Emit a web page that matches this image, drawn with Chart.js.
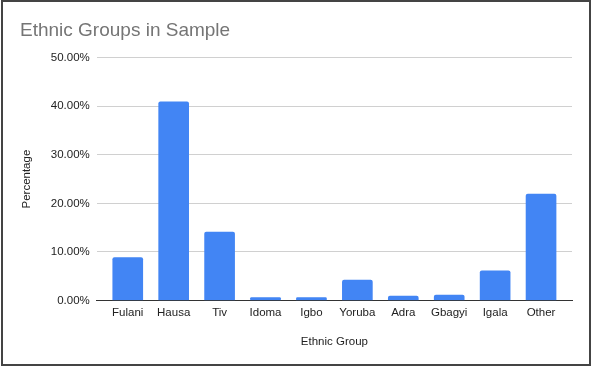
<!DOCTYPE html>
<html>
<head>
<meta charset="utf-8">
<script src="https://cdn.jsdelivr.net/npm/chart.js@4"></script>
<style>
  html, body { margin: 0; padding: 0; background: #fff; }
  #wrap { position: relative; width: 591px; height: 368px; overflow: hidden; }
  #c { position: absolute; left: 0; top: 0; }
  #frame {
    position: absolute; left: 1px; top: 0; width: 590px; height: 366px;
    box-sizing: border-box; border: 2px solid #444; pointer-events: none;
  }
</style>
</head>
<body>
<div id="wrap">
  <canvas id="c" width="591" height="368"></canvas>
  <div id="frame"></div>
</div>
<script>
// Share of each ethnic group in the sample (fraction of total)
const groups = ['Fulani', 'Hausa', 'Tiv', 'Idoma', 'Igbo', 'Yoruba', 'Adra', 'Gbagyi', 'Igala', 'Other'];
const shares = [0.088, 0.409, 0.141, 0.006, 0.006, 0.042, 0.009, 0.011, 0.061, 0.219];
const yTicks = [0, 0.1, 0.2, 0.3, 0.4, 0.5];

const FONT = '"Liberation Sans", Arial, sans-serif';
Chart.defaults.font.family = FONT;
Chart.defaults.color = '#222';

// bars are placed on a numeric axis so the grid can run a little past the outer bars
const points = shares.map((v, i) => ({ x: i, y: v }));

new Chart(document.getElementById('c'), {
  type: 'bar',
  data: {
    datasets: [{
      data: points,
      backgroundColor: '#4285F4',
      barThickness: 30,
      borderRadius: { topLeft: 2, topRight: 2 },
      borderSkipped: 'bottom'
    }]
  },
  options: {
    responsive: false,
    animation: false,
    layout: { padding: { left: 20, right: 19, top: 0, bottom: 19 } },
    plugins: {
      legend: { display: false },
      tooltip: { enabled: false },
      title: {
        display: true,
        text: 'Ethnic Groups in Sample',
        align: 'start',
        color: '#757575',
        font: { size: 19, weight: 'normal', family: FONT },
        padding: { top: 19, bottom: 16 }
      }
    },
    scales: {
      x: {
        type: 'linear',
        offset: false,
        min: -0.674,
        max: 9.674,
        grid: { display: false, drawTicks: false },
        border: { display: true, color: '#333', width: 1 },
        afterBuildTicks: (axis) => { axis.ticks = groups.map((_, i) => ({ value: i })); },
        ticks: {
          autoSkip: false,
          maxRotation: 0,
          padding: 6,
          font: { size: 11.5 },
          color: '#222',
          callback: (v) => groups[v]
        },
        title: {
          display: true,
          text: 'Ethnic Group',
          color: '#222',
          font: { size: 11.5 },
          padding: { top: 9, bottom: 0 }
        }
      },
      y: {
        min: 0,
        max: 0.5,
        afterBuildTicks: (axis) => { axis.ticks = yTicks.map(v => ({ value: v })); },
        grid: { color: '#d0d0d0', drawTicks: false, lineWidth: 1 },
        border: { display: false },
        ticks: {
          padding: 7,
          font: { size: 11.5 },
          color: '#222',
          callback: (v) => (v * 100).toFixed(2) + '%'
        },
        title: {
          display: true,
          text: 'Percentage',
          color: '#222',
          font: { size: 11.5 },
          padding: { top: 0, bottom: 10 }
        }
      }
    }
  }
});
</script>
</body>
</html>
